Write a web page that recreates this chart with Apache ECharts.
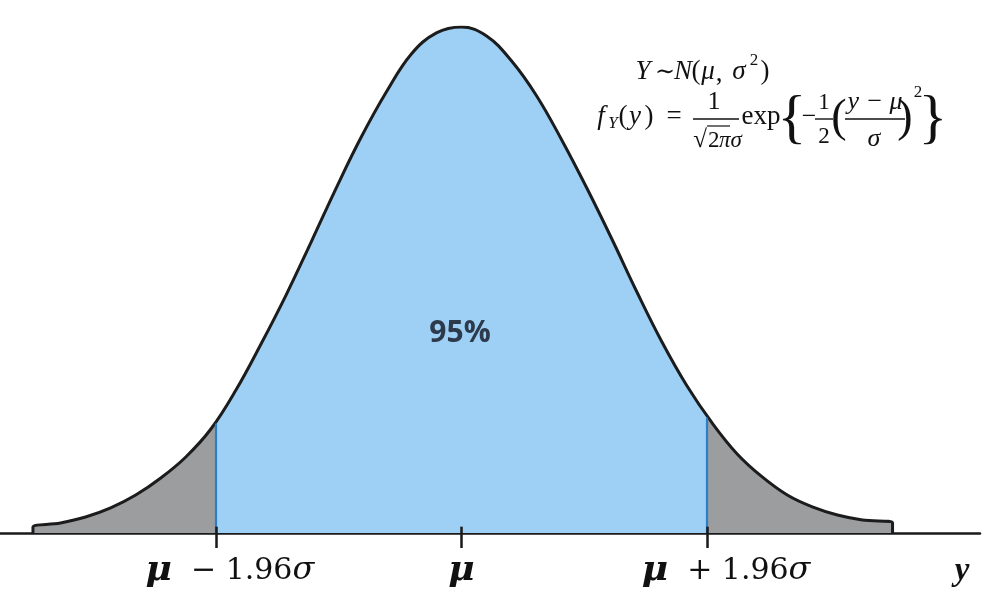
<!DOCTYPE html>
<html>
<head>
<meta charset="utf-8">
<script src="https://cdn.jsdelivr.net/npm/echarts@6/dist/echarts.min.js"></script>
<style>html,body{margin:0;padding:0;background:#fff}#c{width:994px;height:603px}</style>
</head>
<body>
<div id="c"></div>
<script>
// Curve: position in sigma units from mu, and density height
const zVals = [-3.42, -3.42, -3.2, -3.0, -2.8, -2.6, -2.4, -2.2, -2.0, -1.8, -1.6, -1.4, -1.2, -1.0, -0.8, -0.6, -0.4, -0.2, 0.0, 0.2, 0.4, 0.6, 0.8, 1.0, 1.2, 1.4, 1.6, 1.8, 2.0, 2.2, 2.4, 2.6, 2.8, 3.0, 3.2, 3.44, 3.44];
const density = [0.0000, 0.0047, 0.0079, 0.0126, 0.0198, 0.0300, 0.0435, 0.0601, 0.0822, 0.1130, 0.1494, 0.1881, 0.2300, 0.2727, 0.3130, 0.3486, 0.3787, 0.3953, 0.4000, 0.3929, 0.3731, 0.3455, 0.3107, 0.2727, 0.2324, 0.1905, 0.1510, 0.1162, 0.0870, 0.0625, 0.0443, 0.0300, 0.0206, 0.0142, 0.0103, 0.0079, 0.0000];
const cutoffs = [-1.96, 1.96];
const cutoffHeights = [0.0865, 0.0912];
const tickValues = [-1.96, 0, 1.96];
const tickLabels = ['μ  − 1.96σ', 'μ', 'μ  + 1.96σ'];
const centreLabel = '95%';
const axisName = 'y';

const BLUE = '#9dd0f4', GREY = '#9b9d9f';
const labelShift = [28, 0, 38];
const tickUp = 0.005;
const pts = zVals.map((z, i) => [z, density[i]]);

function richLabel(s, i) {
  const body = s.split(/([μσ])/).filter(p => p.length).map(p => p === 'μ' ? '{m|μ}' : p === 'σ' ? '{s|σ}' : '{n|' + p + '}').join('');
  return (labelShift[i] ? '{sp' + i + '|}' : '') + body;
}

const SERIF = '"Liberation Serif", "DejaVu Serif", serif';
const DSERIF = '"DejaVu Serif", "Liberation Serif", serif';
function T(x, y, text, size, opt) {
  opt = opt || {};
  return {
    type: 'text', x: x, y: y, silent: true, z: 100,
    style: {
      text: text,
      font: (opt.italic ? 'italic ' : '') + (opt.bold ? 'bold ' : '') + size + 'px ' + (opt.family || SERIF),
      fill: opt.fill || '#111',
      align: opt.align || 'center',
      verticalAlign: 'middle'
    }
  };
}
function L(x1, y1, x2, y2, w) {
  return { type: 'line', silent: true, z: 100, shape: { x1: x1, y1: y1, x2: x2, y2: y2 }, style: { stroke: '#111', lineWidth: w || 1.4 } };
}

const rich = {
  n: { fontFamily: DSERIF, fontSize: 30, color: '#111', lineHeight: 36 },
  m: { fontFamily: DSERIF, fontSize: 36, fontStyle: 'italic', fontWeight: 'bold', color: '#111', lineHeight: 36 },
  s: { fontFamily: DSERIF, fontSize: 32, fontStyle: 'italic', color: '#111', lineHeight: 36 }
};
labelShift.forEach((w, i) => { if (w) rich['sp' + i] = { width: w, height: 10 }; });

const chart = echarts.init(document.getElementById('c'));
chart.setOption({
  animation: false,
  backgroundColor: '#fff',
  grid: { left: 0, right: 14, top: 27, bottom: 70 },
  xAxis: {
    type: 'value', min: -3.683, max: 4.138,
    splitLine: { show: false },
    axisLine: { lineStyle: { color: '#1a1a1a', width: 2.5 } },
    axisTick: { show: true, customValues: tickValues, length: 15, lineStyle: { color: '#1a1a1a', width: 2.5 } },
    axisLabel: {
      show: true, customValues: tickValues, margin: 20,
      formatter: function (v) {
        const i = tickValues.findIndex(t => Math.abs(t - v) < 1e-6);
        return i >= 0 ? richLabel(tickLabels[i], i) : '';
      },
      rich: rich
    }
  },
  yAxis: { type: 'value', min: 0, max: 0.4, show: false, splitLine: { show: false } },
  visualMap: {
    show: false, type: 'piecewise', dimension: 0, seriesIndex: 0,
    pieces: [
      { lt: cutoffs[0], color: GREY },
      { gte: cutoffs[0], lte: cutoffs[1], color: BLUE },
      { gt: cutoffs[1], color: GREY }
    ]
  },
  series: [
    {
      type: 'line', data: pts, smooth: 0.4, symbol: 'none', silent: true,
      lineStyle: { width: 0 }, areaStyle: { opacity: 1 }, z: 1,
      markLine: {
        silent: true, symbol: 'none', label: { show: false },
        lineStyle: { color: '#2b7fc8', width: 2.2, type: 'solid' },
        data: cutoffs.map((c, i) => [{ coord: [c, 0] }, { coord: [c, cutoffHeights[i]] }])
      }
    },
    {
      type: 'line', data: pts, smooth: 0.4, symbol: 'none', silent: true,
      lineStyle: { color: '#1c1c1c', width: 3 }, z: 3,
      markLine: {
        silent: true, symbol: 'none', label: { show: false },
        lineStyle: { color: '#1a1a1a', width: 2.5, type: 'solid' },
        data: tickValues.map(t => [{ coord: [t, 0] }, { coord: [t, tickUp] }])
      }
    }
  ],
  graphic: [
    T(460, 333, centreLabel, 30, { bold: true, family: '"Open Sans", "Noto Sans", sans-serif', fill: '#2c3a4b' }),
    T(962, 571, axisName, 33, { bold: true, italic: true }),
    // line 1: Y ~ N(mu, sigma^2)
    T(643, 72, 'Y', 27, { italic: true }),
    T(665, 73, '∼', 24),
    T(683, 72, 'N', 27, { italic: true }),
    T(696, 72, '(', 27),
    T(708, 72, 'μ', 27, { italic: true }),
    T(719, 74, ',', 27),
    T(739, 72, 'σ', 27, { italic: true }),
    T(754, 61, '2', 17),
    T(765, 72, ')', 27),
    // line 2
    T(601, 117, 'f', 27, { italic: true }),
    T(613, 124, 'Y', 17, { italic: true }),
    T(623, 117, '(', 27),
    T(635, 117, 'y', 27, { italic: true }),
    T(649, 117, ')', 27),
    T(674, 117, '=', 27),
    T(714, 102, '1', 26),
    L(693, 119, 739, 119),
    T(700, 140, '√', 25),
    L(707, 126, 730, 126, 1.2),
    T(708, 141, '2', 23, { align: 'left' }),
    T(719, 141, 'πσ', 23, { italic: true, align: 'left' }),
    T(761, 117, 'exp', 27),
    T(792, 120, '{', 60),
    T(809, 117, '−', 26),
    T(824, 103, '1', 23),
    L(815, 119, 833, 119),
    T(824, 137, '2', 23),
    T(839, 119, '(', 46),
    T(875, 102, 'y − μ', 26, { italic: true }),
    L(845, 119, 905, 119),
    T(874, 139, 'σ', 26, { italic: true }),
    T(905, 119, ')', 46),
    T(918, 93, '2', 17),
    T(933, 120, '}', 60)
  ]
});
</script>
</body>
</html>
